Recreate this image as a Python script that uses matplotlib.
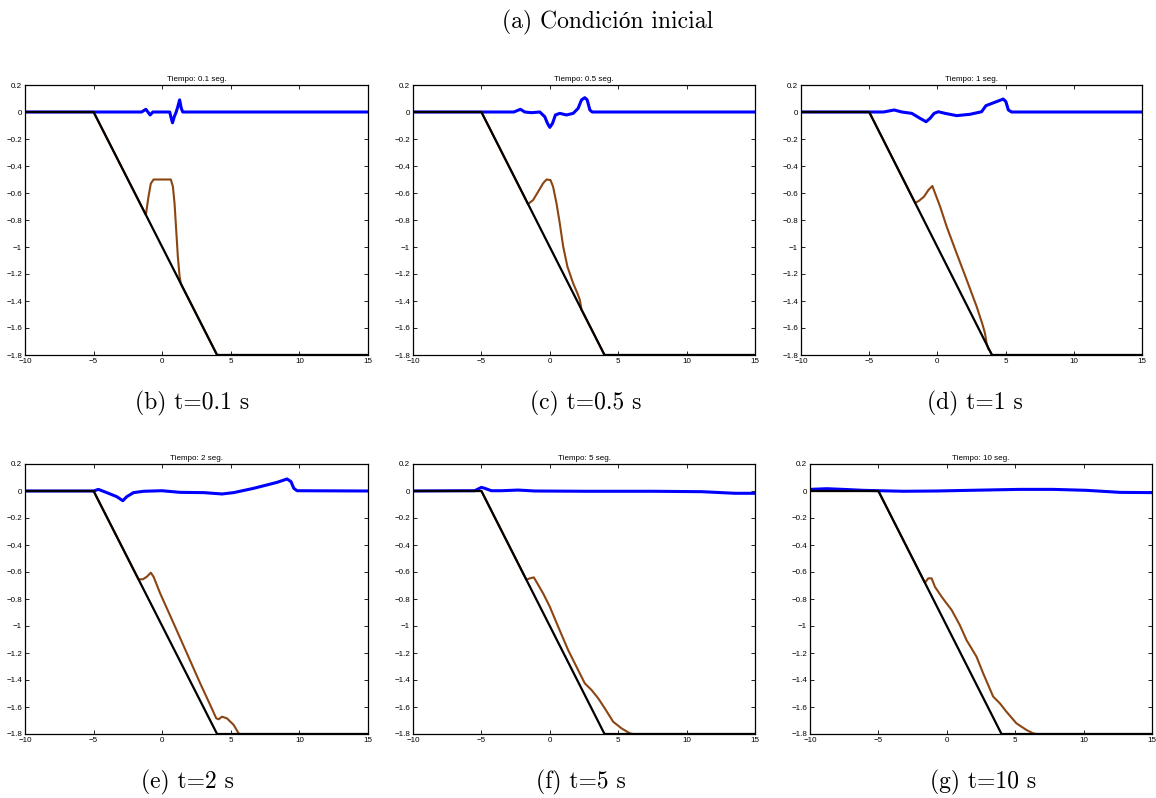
import matplotlib
matplotlib.use("Agg")
import matplotlib.pyplot as plt

# ---------------- datos ----------------
# fondo (batimetría), igual en todos los instantes
x_fondo = [-10, -5, 4, 15]
y_fondo = [0, 0, -1.8, -1.8]

tiempos = ["0.1", "0.5", "1", "2", "5", "10"]
letras = ["b", "c", "d", "e", "f", "g"]

# superficie libre (azul)
xs_01 = [-10, -5, -1.5, -1.19, -0.88, -0.68, 0.55, 0.63, 0.75, 0.88, 1.02, 1.14, 1.27, 1.39, 1.5, 15]
ys_01 = [0, 0, 0, 0.02, -0.022, 0, 0, -0.035, -0.08, -0.035, 0.0, 0.04, 0.09, 0.027, 0, 0]

xs_05 = [-10, -5, -2.63, -2.15, -1.83, -1.34, -0.73, -0.37, -0.17, 0.0, 0.2, 0.41, 0.73, 1.22, 1.71,
         2.07, 2.32, 2.56, 2.73, 2.93, 3.1, 15]
ys_05 = [0, 0, 0, 0.02, 0, -0.005, 0, -0.035, -0.084, -0.114, -0.084, -0.022, -0.01, -0.022, -0.01,
         0.027, 0.09, 0.106, 0.09, 0.015, 0, 0]

xs_1 = [-10, -5, -3.95, -3.17, -2.61, -1.88, -1.27, -0.83, -0.54, -0.24, 0.07, 0.56, 1.41, 2.39, 3.24,
        3.56, 4.34, 4.83, 5.02, 5.2, 5.44, 15]
ys_1 = [0, 0, 0, 0.015, 0, -0.01, -0.047, -0.072, -0.047, -0.01, 0.002, -0.01, -0.027, -0.017, 0.002,
        0.047, 0.077, 0.096, 0.077, 0.015, 0, 0]

xs_2 = [-10, -5, -4.65, -4.04, -3.31, -2.87, -2.58, -2.09, -1.36, -0.02, 1.31, 3.02, 4.36, 5.21, 6.67,
        8.37, 9.1, 9.39, 9.59, 9.83, 15]
ys_2 = [0, 0, 0.012, -0.012, -0.042, -0.072, -0.042, -0.012, -0.002, 0.002, -0.01, -0.012, -0.022, -0.012, 0.02,
        0.064, 0.089, 0.069, 0.02, 0.002, 0]

xs_5 = [-10, -6.22, -5.49, -5.0, -4.76, -4.27, -3.54, -2.32, -1.1, 2.56, 7.44, 11.1, 13.54, 15]
ys_5 = [0, 0.002, 0.002, 0.027, 0.02, 0.002, 0.002, 0.007, 0.0, -0.002, -0.002, -0.005, -0.017, -0.017]

xs_10 = [-10, -8.78, -7.57, -6.1, -4.89, -3.18, -0.75, 1.68, 5.34, 7.77, 10.2, 12.64, 15]
ys_10 = [0.012, 0.017, 0.012, 0.005, 0.002, -0.002, 0.0, 0.005, 0.012, 0.012, 0.005, -0.01, -0.012]

# interfaz (marrón)
xi_01 = [-10, -5, -1.19, -1.0, -0.83, -0.63, 0.63, 0.78, 0.9, 1.02, 1.14, 1.27, 1.36, 4, 15]
yi_01 = [0, 0, -0.762, -0.627, -0.53, -0.5, -0.5, -0.553, -0.677, -0.874, -1.07, -1.22, -1.272, -1.8, -1.8]

xi_05 = [-10, -5, -1.59, -1.22, -0.85, -0.49, -0.24, 0.05, 0.24, 0.49, 0.73, 0.98, 1.29, 1.71, 2.02,
         2.2, 2.32, 2.39, 4, 15]
yi_05 = [0, 0, -0.682, -0.652, -0.59, -0.528, -0.5, -0.504, -0.553, -0.677, -0.825, -0.998, -1.146, -1.27, -1.343,
         -1.393, -1.467, -1.478, -1.8, -1.8]

xi_1 = [-10, -5, -1.63, -1.34, -0.98, -0.66, -0.37, -0.17, 0.2, 0.68, 1.41, 2.15, 2.88, 3.32, 3.49,
        3.61, 3.73, 3.85, 4, 15]
yi_1 = [0, 0, -0.674, -0.657, -0.627, -0.578, -0.548, -0.602, -0.701, -0.849, -1.047, -1.244, -1.442, -1.578, -1.64,
        -1.714, -1.755, -1.77, -1.8, -1.8]

xi_2 = [-10, -5, -1.73, -1.41, -1.12, -0.83, -0.63, -0.15, 0.83, 1.8, 2.77, 3.5, 3.94, 4.11, 4.36,
        4.72, 5.21, 5.57, 5.65, 15]
yi_2 = [0, 0, -0.654, -0.654, -0.635, -0.605, -0.635, -0.758, -0.98, -1.202, -1.425, -1.585, -1.684, -1.691, -1.672,
        -1.684, -1.733, -1.795, -1.8, -1.8]

xi_5 = [-10, -5, -1.71, -1.46, -1.17, -0.98, -0.49, 0.0, 0.61, 1.34, 2.07, 2.56, 3.05, 3.54, 4.02,
        4.63, 5.24, 5.85, 6.1, 15]
yi_5 = [0, 0, -0.658, -0.647, -0.64, -0.672, -0.758, -0.857, -1.005, -1.178, -1.326, -1.425, -1.474, -1.536, -1.61,
        -1.709, -1.758, -1.795, -1.8, -1.8]

xi_10 = [-10, -5, -1.6, -1.36, -1.11, -0.87, -0.38, -0.02, 0.35, 0.95, 1.44, 2.17, 2.66, 3.39, 3.88,
         4.36, 5.09, 5.82, 6.31, 6.55, 15]
yi_10 = [0, 0, -0.68, -0.647, -0.647, -0.709, -0.783, -0.832, -0.881, -0.993, -1.104, -1.227, -1.351, -1.523, -1.573,
         -1.635, -1.721, -1.77, -1.795, -1.8, -1.8]

superficies = [(xs_01, ys_01), (xs_05, ys_05), (xs_1, ys_1), (xs_2, ys_2), (xs_5, ys_5), (xs_10, ys_10)]
interfaces = [(xi_01, yi_01), (xi_05, yi_05), (xi_1, yi_1), (xi_2, yi_2), (xi_5, yi_5), (xi_10, yi_10)]

x_ticks = [-10, -5, 0, 5, 10, 15]
y_ticks = [0.2, 0, -0.2, -0.4, -0.6, -0.8, -1, -1.2, -1.4, -1.6, -1.8]

# ---------------- figura ----------------
W, H = 1156, 798
fig = plt.figure(figsize=(W / 100, H / 100), dpi=100)

# cajas de los ejes en pixeles: (izq, arriba, der, abajo)
cajas = [
    (25, 85, 368, 355), (413, 85, 755, 355), (801, 85, 1142, 355),
    (25, 464, 368, 734), (413, 464, 755, 734), (810, 464, 1152, 734),
]
centros_pie = [(192, 403), (586, 403), (975, 403), (187, 782), (581, 782), (983, 782)]

FUENTE_PIE = ["cmr10", "Liberation Serif"]
FUENTE_EJES = "Liberation Sans"
MARRON = "#8B4513"

def fmt(v):
    s = f"{v:g}"
    return s.replace("-", "\u2212")

for i in range(6):
    l, t, r, b = cajas[i]
    ax = fig.add_axes([l / W, 1 - b / H, (r - l) / W, (b - t) / H])
    xs, ys = superficies[i]
    xi, yi = interfaces[i]
    ax.plot(xs, ys, color="#0000FF", lw=2.2, solid_joinstyle="round", zorder=2)
    ax.plot(xi, yi, color=MARRON, lw=1.5, zorder=3)
    ax.plot(x_fondo, y_fondo, color="black", lw=1.6, zorder=4)
    ax.set_xlim(-10, 15)
    ax.set_ylim(-1.8, 0.2)
    ax.set_xticks(x_ticks)
    ax.set_yticks(y_ticks)
    ax.set_xticklabels([fmt(v) for v in x_ticks], family=FUENTE_EJES, fontsize=5.8)
    ax.set_yticklabels([fmt(v) for v in y_ticks], family=FUENTE_EJES, fontsize=5.8)
    ax.tick_params(direction="in", length=3, width=0.6, top=True, right=True)
    ax.tick_params(axis="x", pad=2.2)
    ax.tick_params(axis="y", pad=2.0)
    for sp in ax.spines.values():
        sp.set_linewidth(0.9)
    ax.set_title(f"Tiempo: {tiempos[i]} seg.", fontsize=5.8, family=FUENTE_EJES, pad=3)
    cx, cy = centros_pie[i]
    fig.text(cx / W, 1 - cy / H, f"({letras[i]}) t={tiempos[i]} s", ha="center", va="center",
             fontsize=17, family=FUENTE_PIE)

fig.text(608 / W, 1 - 22 / H, "(a) Condición inicial", ha="center", va="center",
         fontsize=17, family=FUENTE_PIE)

fig.savefig("out.png", dpi=100)
